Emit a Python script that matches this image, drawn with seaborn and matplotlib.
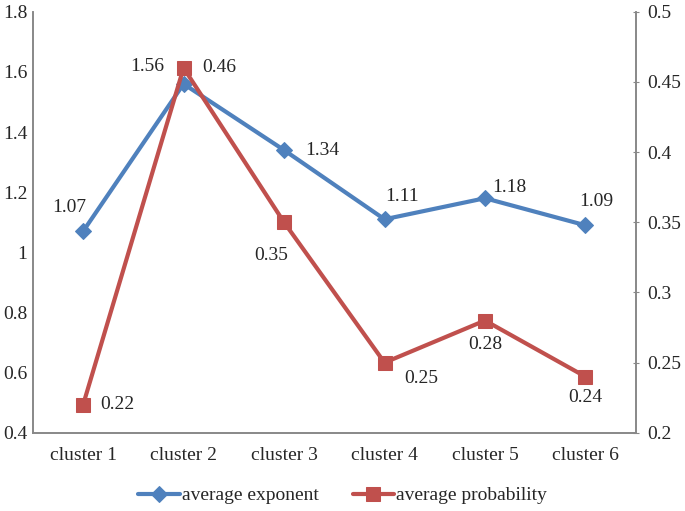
# 2軸の折れ線グラフ (cluster ごとの平均指数と平均確率)
import pandas as pd
import matplotlib.pyplot as plt
import seaborn as sns

categories = ["cluster 1", "cluster 2", "cluster 3", "cluster 4", "cluster 5", "cluster 6"]
avg_exponent = [1.07, 1.56, 1.34, 1.11, 1.18, 1.09]
avg_probability = [0.22, 0.46, 0.35, 0.25, 0.28, 0.24]
left_ticks = [0.4, 0.6, 0.8, 1.0, 1.2, 1.4, 1.6, 1.8]
left_labels = ["0.4", "0.6", "0.8", "1", "1.2", "1.4", "1.6", "1.8"]
right_ticks = [0.2, 0.25, 0.3, 0.35, 0.4, 0.45, 0.5]
right_labels = ["0.2", "0.25", "0.3", "0.35", "0.4", "0.45", "0.5"]

sns.set_style("white")
plt.rcParams['font.family'] = ['Liberation Serif', 'DejaVu Serif']

blue = "#4F81BD"
red = "#C0504D"
gray = "#888888"
fs = 14

df = pd.DataFrame({"cluster": categories, "exponent": avg_exponent, "probability": avg_probability})

fig = plt.figure(figsize=(6.85, 5.11), dpi=100)
ax = fig.add_axes([0.048, 0.153, 0.88, 0.824])
ax2 = ax.twinx()

sns.lineplot(data=df, x="cluster", y="exponent", ax=ax, color=blue, linewidth=3,
             marker="D", markersize=8, markeredgecolor=blue, label="average exponent", legend=False)
sns.lineplot(data=df, x="cluster", y="probability", ax=ax2, color=red, linewidth=3,
             marker="s", markersize=10, markeredgecolor=red, label="average probability", legend=False)

ax.set_xlim(-0.5, 5.5)
ax.set_ylim(0.4, 1.8)
ax2.set_ylim(0.2, 0.5)
ax.set_yticks(left_ticks)
ax.set_yticklabels(left_labels, fontsize=fs)
ax2.set_yticks(right_ticks)
ax2.set_yticklabels(right_labels, fontsize=fs)
ax.tick_params(axis="x", labelsize=fs, length=0, pad=10)
ax.tick_params(axis="y", length=0, pad=4)
ax2.tick_params(axis="y", length=5, direction="inout", color=gray, pad=6)
ax.set_xlabel("")
ax.set_ylabel("")
ax2.set_ylabel("")

for a in (ax, ax2):
    a.spines["top"].set_visible(False)
    for s in ("left", "right", "bottom"):
        a.spines[s].set_color(gray)
        a.spines[s].set_linewidth(1.2)

# ラベル位置 (ピクセル単位のオフセット: 右, 上)
exp_off = [(-14, 24), (-36, 17), (38, 0), (18, 23), (24, 11), (11, 24)]
prob_off = [(34, 0), (36, 0), (-13, -33), (37, -16), (0, -24), (0, -21)]

for i, v in enumerate(avg_exponent):
    ax.annotate(f"{v:.2f}", (i, v), xytext=exp_off[i], textcoords="offset pixels",
                ha="center", va="center", fontsize=fs)
for i, v in enumerate(avg_probability):
    ax2.annotate(f"{v:.2f}", (i, v), xytext=prob_off[i], textcoords="offset pixels",
                 ha="center", va="center", fontsize=fs)

h1, l1 = ax.get_legend_handles_labels()
h2, l2 = ax2.get_legend_handles_labels()
fig.legend(h1 + h2, l1 + l2, loc="center", bbox_to_anchor=(0.5, 0.03), ncol=2,
           frameon=False, fontsize=fs, handlelength=2.15, handletextpad=0.1, columnspacing=1.75)

plt.savefig("out.png", dpi=100)
